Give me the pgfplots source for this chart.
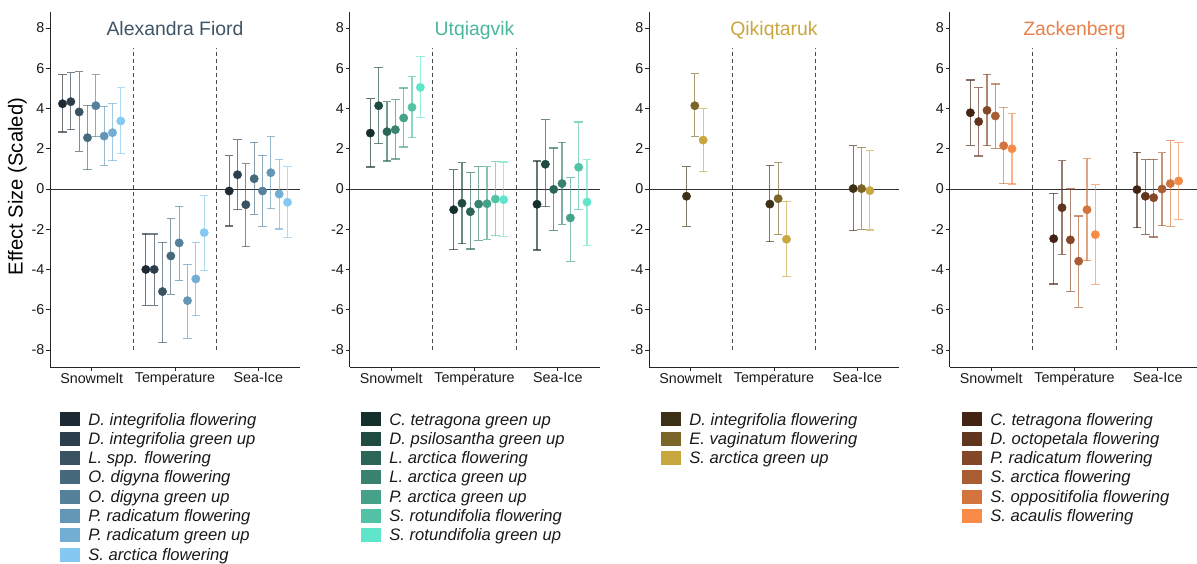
\documentclass[border=0pt]{standalone}
\usepackage{pgfplots}
\pgfplotsset{compat=1.18}
\usepackage{fontspec}
\setmainfont{Liberation Sans}
\newcommand{\ticksize}{\fontsize{14.3}{16}\selectfont}
\newcommand{\legsize}{\fontsize{16.6}{19}\selectfont}
\definecolor{a1}{HTML}{1E2A33}\definecolor{a2}{HTML}{2C3E4C}\definecolor{a3}{HTML}{3A5363}\definecolor{a4}{HTML}{46697C}
\definecolor{a5}{HTML}{55819A}\definecolor{a6}{HTML}{6497B5}\definecolor{a7}{HTML}{72AED4}\definecolor{a8}{HTML}{83C9F1}
\definecolor{b1}{HTML}{15302A}\definecolor{b2}{HTML}{1F4B40}\definecolor{b3}{HTML}{2A6556}\definecolor{b4}{HTML}{38826F}
\definecolor{b5}{HTML}{45A189}\definecolor{b6}{HTML}{52C2A6}\definecolor{b7}{HTML}{5FE6CA}
\definecolor{c1}{HTML}{3C3117}\definecolor{c2}{HTML}{7B6528}\definecolor{c3}{HTML}{C8A740}
\definecolor{d1}{HTML}{422314}\definecolor{d2}{HTML}{61341D}\definecolor{d3}{HTML}{844727}
\definecolor{d4}{HTML}{AA5D33}\definecolor{d5}{HTML}{D3743F}\definecolor{d6}{HTML}{F98B49}
\definecolor{tA}{HTML}{3D5567}\definecolor{tB}{HTML}{4AB69C}\definecolor{tC}{HTML}{C9A640}\definecolor{tD}{HTML}{E8814B}
\pgfplotsset{panel/.style={width=250pt, height=355pt, scale only axis, anchor=south west,
  xmin=0.5, xmax=3.5, ymin=-8.85, ymax=8.8, clip=false,
  axis x line*=bottom, axis y line*=left,
  axis line style={line width=0.8pt, black!85},
  xtick={1,2,3}, xticklabels={Snowmelt,Temperature,Sea-Ice},
  ytick={-8,-6,...,8}, yticklabels={-8,-6,-4,-2,0,2,4,6,8},
  tick align=outside, major tick length=4pt, tick style={line width=0.8pt, black!85},
  ticklabel style={font=\ticksize, text=black!90},
  yticklabel style={inner xsep=1.5pt}, xticklabel style={inner ysep=1.5pt},
  legend style={at={(0,0)}, anchor=north west, yshift=-44pt, draw=none, fill=none,
    inner sep=0pt, outer sep=0pt, row sep=0pt, column sep=9pt, font=\legsize\itshape,
    nodes={inner sep=0pt, outer sep=0pt, anchor=base west, text height=14pt, text depth=5.33pt, text=black!90}},
}}
\newcommand{\reflines}{%
  \addplot[forget plot, line width=0.9pt, black!80] coordinates {(0.5,0) (3.5,0)};
  \addplot[forget plot, line width=0.8pt, black!70, dash pattern=on 4pt off 3pt] coordinates {(1.5,-8) (1.5,7)};
  \addplot[forget plot, line width=0.8pt, black!70, dash pattern=on 4pt off 3pt] coordinates {(2.5,-8) (2.5,7)};
}
\newcommand{\ser}[3]{%
  \addplot[forget plot, only marks, mark=*, mark size=4.2pt, color=#1, mark options={draw=#1, fill=#1},
    error bars/.cd, y dir=both, y explicit,
    error bar style={line width=1.15pt, #1, opacity=0.65},
    error mark options={rotate=90, mark size=4.2pt, line width=1.15pt, #1, opacity=0.65}]
    table[row sep=\\, x=x, y=y, y error plus expr=\thisrow{hi}-\thisrow{y}, y error minus expr=\thisrow{y}-\thisrow{lo}] {#3};
  \addlegendimage{legend image code/.code={\fill[#1] (0pt,-0.5pt) rectangle (19pt,12.5pt);}}
  \addlegendentry{#2}
}
\begin{document}
\begin{tikzpicture}
\useasboundingbox (0,0) rectangle (1197pt,563pt);
% ---------------- Alexandra Fiord
\begin{axis}[panel, at={(50pt,196pt)}, legend style={xshift=10pt}]
\reflines
\ser{a1}{D. integrifolia flowering}{x y hi lo\\ 0.65 4.24 5.68 2.83\\ 1.65 -4.00 -2.24 -5.79\\ 2.65 -0.10 1.66 -1.84\\}
\ser{a2}{D. integrifolia green up}{x y hi lo\\ 0.75 4.34 5.78 2.95\\ 1.75 -4.00 -2.24 -5.79\\ 2.75 0.71 2.45 -1.03\\}
\ser{a3}{L. spp. flowering}{x y hi lo\\ 0.85 3.83 5.83 1.87\\ 1.85 -5.10 -2.64 -7.65\\ 2.85 -0.78 1.26 -2.88\\}
\ser{a4}{O. digyna flowering}{x y hi lo\\ 0.95 2.55 4.16 0.96\\ 1.95 -3.33 -1.48 -5.23\\ 2.95 0.51 2.32 -1.26\\}
\ser{a5}{O. digyna green up}{x y hi lo\\ 1.05 4.14 5.68 2.60\\ 2.05 -2.68 -0.86 -4.54\\ 3.05 -0.10 1.67 -1.86\\}
\ser{a6}{P. radicatum flowering}{x y hi lo\\ 1.15 2.63 4.12 1.18\\ 2.15 -5.55 -3.76 -7.42\\ 3.15 0.81 2.60 -0.98\\}
\ser{a7}{P. radicatum green up}{x y hi lo\\ 1.25 2.80 4.24 1.41\\ 2.25 -4.47 -2.68 -6.30\\ 3.25 -0.25 1.47 -1.99\\}
\ser{a8}{S. arctica flowering}{x y hi lo\\ 1.35 3.38 5.04 1.76\\ 2.35 -2.17 -0.33 -4.06\\ 3.35 -0.66 1.11 -2.43\\}
\node[anchor=base, font=\fontsize{19.4}{22}\selectfont, text=tA] at (axis cs:2,7.64) {Alexandra Fiord};
\end{axis}
% ---------------- Utqiagvik
\begin{axis}[panel, at={(349.5pt,196pt)}, legend style={xshift=11.5pt}]
\reflines
\ser{b1}{C. tetragona green up}{x y hi lo\\ 0.75 2.78 4.49 1.09\\ 1.75 -1.03 0.96 -3.01\\ 2.75 -0.76 1.39 -3.03\\}
\ser{b2}{D. psilosantha green up}{x y hi lo\\ 0.85 4.14 6.05 2.25\\ 1.85 -0.71 1.31 -2.73\\ 2.85 1.23 3.44 -0.88\\}
\ser{b3}{L. arctica flowering}{x y hi lo\\ 0.95 2.85 4.34 1.39\\ 1.95 -1.13 0.80 -2.98\\ 2.95 -0.02 2.04 -2.07\\}
\ser{b4}{L. arctica green up}{x y hi lo\\ 1.05 2.95 4.44 1.49\\ 2.05 -0.75 1.11 -2.55\\ 3.05 0.27 2.32 -1.76\\}
\ser{b5}{P. arctica green up}{x y hi lo\\ 1.15 3.53 5.02 2.09\\ 2.15 -0.73 1.11 -2.50\\ 3.15 -1.44 0.56 -3.59\\}
\ser{b6}{S. rotundifolia flowering}{x y hi lo\\ 1.25 4.06 5.58 2.55\\ 2.25 -0.50 1.36 -2.32\\ 3.25 1.08 3.33 -1.03\\}
\ser{b7}{S. rotundifolia green up}{x y hi lo\\ 1.35 5.05 6.58 3.56\\ 2.35 -0.53 1.34 -2.37\\ 3.35 -0.65 1.46 -2.80\\}
\node[anchor=base, font=\fontsize{19.4}{22}\selectfont, text=tB] at (axis cs:2,7.64) {Utqiagvik};
\end{axis}
% ---------------- Qikiqtaruk
\begin{axis}[panel, at={(649pt,196pt)}, legend style={xshift=12pt}]
\reflines
\ser{c1}{D. integrifolia flowering}{x y hi lo\\ 0.95 -0.36 1.11 -1.86\\ 1.95 -0.75 1.18 -2.63\\ 2.95 0.02 2.15 -2.07\\}
\ser{c2}{E. vaginatum flowering}{x y hi lo\\ 1.05 4.14 5.73 2.62\\ 2.05 -0.48 1.31 -2.25\\ 3.05 0.02 2.05 -2.00\\}
\ser{c3}{S. arctica green up}{x y hi lo\\ 1.15 2.43 3.99 0.86\\ 2.15 -2.50 -0.61 -4.36\\ 3.15 -0.08 1.90 -2.04\\}
\node[anchor=base, font=\fontsize{19.4}{22}\selectfont, text=tC] at (axis cs:2,7.64) {Qikiqtaruk};
\end{axis}
% ---------------- Zackenberg
\begin{axis}[panel, at={(949.5pt,196pt)}, legend style={xshift=12.5pt}]
\reflines
\ser{d1}{C. tetragona flowering}{x y hi lo\\ 0.75 3.79 5.42 2.17\\ 1.75 -2.47 -0.21 -4.72\\ 2.75 -0.03 1.82 -1.92\\}
\ser{d2}{D. octopetala flowering}{x y hi lo\\ 0.85 3.35 5.04 1.64\\ 1.85 -0.93 1.41 -3.25\\ 2.85 -0.36 1.46 -2.25\\}
\ser{d3}{P. radicatum flowering}{x y hi lo\\ 0.95 3.91 5.71 2.15\\ 1.95 -2.53 0.00 -5.09\\ 2.95 -0.43 1.47 -2.39\\}
\ser{d4}{S. arctica flowering}{x y hi lo\\ 1.05 3.63 5.22 2.00\\ 2.05 -3.59 -1.34 -5.88\\ 3.05 0.00 1.81 -1.82\\}
\ser{d5}{S. oppositifolia flowering}{x y hi lo\\ 1.15 2.15 4.06 0.26\\ 2.15 -1.03 1.51 -3.56\\ 3.15 0.27 2.40 -1.86\\}
\ser{d6}{S. acaulis flowering}{x y hi lo\\ 1.25 2.00 3.74 0.25\\ 2.25 -2.27 0.21 -4.74\\ 3.25 0.40 2.32 -1.51\\}
\node[anchor=base, font=\fontsize{19.4}{22}\selectfont, text=tD] at (axis cs:2,7.64) {Zackenberg};
\end{axis}
\node[rotate=90, font=\fontsize{20.2}{24}\selectfont, text=black] at (17.5pt,376.5pt) {Effect Size (Scaled)};
\end{tikzpicture}
\end{document}
